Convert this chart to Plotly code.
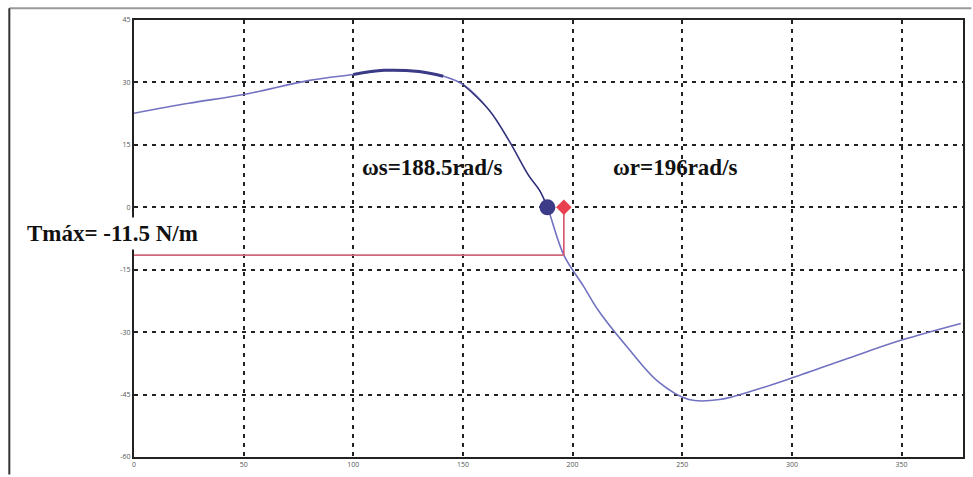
import plotly.graph_objects as go

# Torque-speed characteristic of the induction machine
speed = [0, 25, 50, 80, 100, 114, 130, 141, 150, 162, 171, 180, 185, 188.5,
         196, 205, 212, 226, 239, 253, 267, 285, 299, 326, 350, 377]
torque = [22.6, 25.0, 27.1, 30.5, 31.9, 32.9, 32.6, 31.5, 29.5, 23.3, 16.0, 7.6, 4.0, 0.0,
          -11.5, -19.0, -25.0, -34.3, -41.9, -46.2, -46.2, -43.6, -41.2, -36.2, -31.9, -27.9]

# Operating points
ws = 188.5          # synchronous speed, rad/s
wr = 196            # rotor speed, rad/s
t_op = -11.5        # torque at wr, N·m

x_ticks = [0, 50, 100, 150, 200, 250, 300, 350]
y_ticks = [45, 30, 15, 0, -15, -30, -45, -60]

fig = go.Figure()

fig.add_trace(go.Scatter(x=speed, y=torque, mode="lines",
                         line=dict(color="#7272c2", width=1.6, shape="spline"),
                         hoverinfo="skip"))
# darker stretch around the peak and towards synchronous speed
fig.add_trace(go.Scatter(x=speed[4:8], y=torque[4:8], mode="lines",
                         line=dict(color="#3a3a86", width=3, shape="spline"),
                         hoverinfo="skip"))
fig.add_trace(go.Scatter(x=speed[8:14], y=torque[8:14], mode="lines",
                         line=dict(color="#2e2e70", width=1.2, shape="spline"),
                         hoverinfo="skip"))

# operating-point guides
fig.add_trace(go.Scatter(x=[0, wr], y=[t_op, t_op], mode="lines",
                         line=dict(color="#d0687a", width=1.6), hoverinfo="skip"))
fig.add_trace(go.Scatter(x=[wr, wr], y=[t_op, 0], mode="lines",
                         line=dict(color="#d8506a", width=1.6), hoverinfo="skip"))

fig.add_trace(go.Scatter(x=[ws], y=[0], mode="markers",
                         marker=dict(color="#3b3b88", size=16), hoverinfo="skip"))
fig.add_trace(go.Scatter(x=[wr], y=[0], mode="markers",
                         marker=dict(color="#e8404e", size=12, symbol="diamond"),
                         hoverinfo="skip"))

txt_font = dict(family="Liberation Serif, Times New Roman, serif", size=23, color="#111")

fig.add_annotation(x=136, y=9.5, xref="x", yref="y", text="<b>ωs=188.5rad/s</b>",
                   showarrow=False, font=txt_font, xanchor="center")
fig.add_annotation(x=247, y=9.5, xref="x", yref="y", text="<b>ωr=196rad/s</b>",
                   showarrow=False, font=txt_font, xanchor="center")
fig.add_annotation(x=-0.0265, y=-6.2, xref="paper", yref="y", text="<b>Tmáx= -11.5 N/m</b>",
                   showarrow=False, font=txt_font, xanchor="center",
                   bgcolor="white", borderpad=3)

# outer frame of the figure
fig.add_shape(type="line", xref="paper", yref="paper", x0=-0.1504, x1=1.01, y0=1.027, y1=1.027,
              line=dict(color="#9a9a9a", width=2))
fig.add_shape(type="line", xref="paper", yref="paper", x0=-0.1504, x1=-0.1504, y0=1.027, y1=-0.04,
              line=dict(color="#333", width=2))

grid = dict(showgrid=True, gridcolor="#222", gridwidth=1.6, griddash="4px,5px",
            showline=True, linecolor="#222", linewidth=2, mirror=True,
            zeroline=False, ticks="", tickfont=dict(size=7, color="#555"))

fig.update_xaxes(range=[0, 378], tickvals=x_ticks, ticktext=[str(v) for v in x_ticks], **grid)
fig.update_yaxes(range=[-60, 45], tickvals=y_ticks, ticktext=[str(v) for v in y_ticks], **grid)

fig.update_layout(width=973, height=477, showlegend=False,
                  margin=dict(l=134, r=8, t=20, b=16),
                  paper_bgcolor="white", plot_bgcolor="white")

fig.write_html("out.html")
